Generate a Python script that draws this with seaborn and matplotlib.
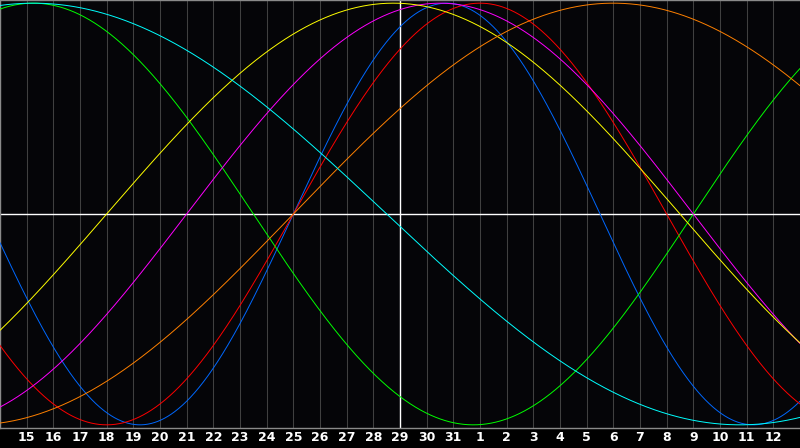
"""Biorhythm chart: seven cycles over a 30-day window."""
import matplotlib
matplotlib.use("Agg")
import matplotlib.pyplot as plt
import numpy as np
import pandas as pd
import seaborn as sns

# --- data -------------------------------------------------------------
day_labels = [str(d) for d in range(15, 32)] + [str(d) for d in range(1, 13)]
cycle_names = ["Physical", "Emotional", "Intellectual", "Intuitive",
               "Aesthetic", "Awareness", "Spiritual"]
cycle_periods = [23, 28, 33, 38, 43, 48, 53]
cycle_colors = ["#0068ff", "#ff0000", "#00ff00", "#ff00ff",
                "#ffff00", "#ff8000", "#00ffff"]
days_since_birth_at_start = 23173   # age in days at the left edge (the 14th)
window_days = 30
today_index = 15                    # the 29th

# --- curves (biorhythm definition: sin(2*pi*age/period)) ---------------
t = np.linspace(0, window_days, 1201)
frames = []
for name, period in zip(cycle_names, cycle_periods):
    age = days_since_birth_at_start + t
    frames.append(pd.DataFrame({'day': t,
                                'value': np.sin(2 * np.pi * age / period),
                                'cycle': name}))
df = pd.concat(frames, ignore_index=True)

# --- figure -----------------------------------------------------------
sns.set_style("dark")
fig = plt.figure(figsize=(8, 4.48), dpi=100, facecolor='#000000')
ax = fig.add_axes([0, 20 / 448, 1, 428 / 448])
ax.set_facecolor('#050508')

for k in range(1, window_days):
    ax.axvline(k, color='#404040', linewidth=0.75, zorder=1)
ax.axhline(0, color='white', linewidth=1.0, zorder=2)
ax.axvline(today_index, color='white', linewidth=1.0, zorder=2)

sns.lineplot(data=df, x='day', y='value', hue='cycle',
             palette=dict(zip(cycle_names, cycle_colors)),
             hue_order=cycle_names, estimator=None, legend=False,
             linewidth=0.7, ax=ax, zorder=3)

ax.set_xlim(0, window_days)
ax.set_ylim(-1.015, 1.015)
ax.set_xlabel('')
ax.set_ylabel('')
ax.set_yticks([])
ax.set_xticks(range(1, window_days))
ax.set_xticklabels(day_labels, color='white', fontsize=9,
                   fontweight='bold', family='DejaVu Sans')
ax.tick_params(axis='x', length=0, pad=2.5)
ax.grid(False)

for side in ('left', 'top', 'bottom'):
    ax.spines[side].set_visible(True)
    ax.spines[side].set_color('#8a8a8a')
    ax.spines[side].set_linewidth(1.0)
ax.spines['right'].set_visible(False)

fig.savefig('out.png', dpi=100, facecolor=fig.get_facecolor())
